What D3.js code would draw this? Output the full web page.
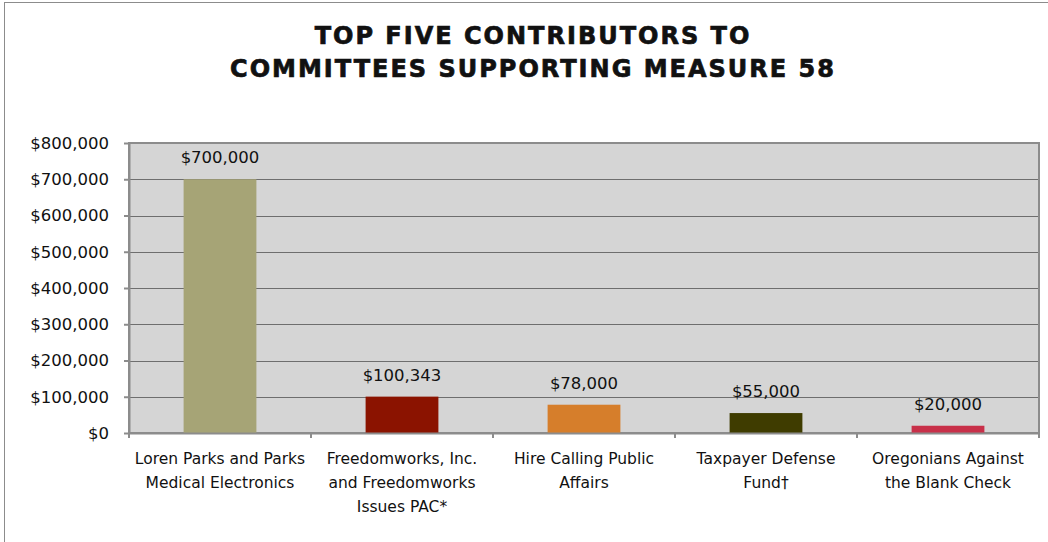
<!DOCTYPE html>
<html>
<head>
<meta charset="utf-8">
<script src="https://cdn.jsdelivr.net/npm/d3@7"></script>
<style>
  body { margin: 0; background: #fff; }
  text { font-family: "DejaVu Sans", sans-serif; fill: #111; }
</style>
</head>
<body>
<div id="viz"></div>
<script>
// chart data
var contributors = [
  ["Loren Parks and Parks", "Medical Electronics"],
  ["Freedomworks, Inc.", "and Freedomworks", "Issues PAC*"],
  ["Hire Calling Public", "Affairs"],
  ["Taxpayer Defense", "Fund\u2020"],
  ["Oregonians Against", "the Blank Check"]
];
var amounts    = [700000, 100343, 78000, 55000, 20000];
var barColors  = ["#a6a476", "#8b1300", "#d67e2b", "#3f3c00", "#c83049"];
var yTicks     = [0, 100000, 200000, 300000, 400000, 500000, 600000, 700000, 800000];
var titleLines = ["TOP FIVE CONTRIBUTORS TO", "COMMITTEES SUPPORTING MEASURE 58"];

var W = 1048, H = 542;
var plotL = 129, plotR = 1039, plotT = 143, plotB = 433;

var money = function(d) { return "$" + d3.format(",")(d); };

var svg = d3.select("#viz").append("svg")
    .attr("width", W)
    .attr("height", H);

// outer frame
svg.append("rect")
    .attr("x", 4.5).attr("y", 2.5)
    .attr("width", W + 10).attr("height", H + 10)
    .style("fill", "none")
    .style("stroke", "#8c8c8c")
    .style("stroke-width", 1);

svg.selectAll(".title")
    .data(titleLines)
    .enter()
    .append("text")
    .attr("class", "title")
    .attr("x", 533)
    .attr("y", function(d, i) { return 44 + i * 33; })
    .attr("text-anchor", "middle")
    .style("font-size", "24px")
    .style("font-weight", "bold")
    .style("letter-spacing", "2px")
    .style("stroke", "#111")
    .style("stroke-width", 0.7)
    .text(function(d) { return d; });

var x = d3.scaleBand()
    .domain(d3.range(amounts.length))
    .range([plotL, plotR]);

var y = d3.scaleLinear()
    .domain([0, 800000])
    .range([plotB, plotT]);

// plot background
svg.append("rect")
    .attr("x", plotL).attr("y", plotT)
    .attr("width", plotR - plotL).attr("height", plotB - plotT)
    .style("fill", "#d5d5d5");

// gridlines
svg.selectAll(".grid")
    .data(yTicks.slice(1, -1))
    .enter()
    .append("line")
    .attr("x1", plotL).attr("x2", plotR)
    .attr("y1", function(d) { return Math.round(y(d)) + 0.5; })
    .attr("y2", function(d) { return Math.round(y(d)) + 0.5; })
    .style("stroke", "#6e6e6e")
    .style("stroke-width", 1.2);

// border of the plot
svg.append("rect")
    .attr("x", plotL).attr("y", plotT)
    .attr("width", plotR - plotL).attr("height", plotB - plotT)
    .style("fill", "none")
    .style("stroke", "#8c8c8c")
    .style("stroke-width", 2);

var bw = x.bandwidth() * 0.4;

svg.selectAll(".bar")
    .data(amounts)
    .enter()
    .append("rect")
    .attr("class", "bar")
    .attr("x", function(d, i) { return x(i) + (x.bandwidth() - bw) / 2; })
    .attr("y", function(d) { return y(d); })
    .attr("width", bw)
    .attr("height", function(d) { return plotB - y(d); })
    .style("fill", function(d, i) { return barColors[i]; });

svg.selectAll(".val")
    .data(amounts)
    .enter()
    .append("text")
    .attr("x", function(d, i) { return x(i) + x.bandwidth() / 2; })
    .attr("y", function(d) { return y(d) - 16; })
    .attr("text-anchor", "middle")
    .style("font-size", "16.5px")
    .text(money);

// y axis
var yAxis = svg.append("g")
    .attr("transform", "translate(" + plotL + ",0)")
    .call(d3.axisLeft(y).tickValues(yTicks).tickFormat(money)
        .tickSize(5).tickSizeOuter(0).tickPadding(15));
yAxis.selectAll("text").style("font-size", "16.5px");

// x axis
var xAxis = svg.append("g")
    .attr("transform", "translate(0," + plotB + ")")
    .call(d3.axisBottom(x).tickSize(0).tickSizeOuter(0).tickFormat(""));
xAxis.selectAll(".sep")
    .data(d3.range(amounts.length + 1))
    .enter()
    .append("line")
    .attr("x1", function(d) { return plotL + d * x.step(); })
    .attr("x2", function(d) { return plotL + d * x.step(); })
    .attr("y1", 0).attr("y2", 5);

svg.selectAll("g .domain, g line").style("stroke", "#8c8c8c").style("stroke-width", 2);

svg.selectAll(".cat")
    .data(contributors)
    .enter()
    .append("text")
    .attr("text-anchor", "middle")
    .style("font-size", "15.5px")
    .attr("transform", function(d, i) {
        return "translate(" + (x(i) + x.bandwidth() / 2) + "," + 464 + ")";
    })
    .selectAll("tspan")
    .data(function(d) { return d; })
    .enter()
    .append("tspan")
    .attr("x", 0)
    .attr("y", function(d, i) { return i * 24; })
    .text(function(d) { return d; });
</script>
</body>
</html>
